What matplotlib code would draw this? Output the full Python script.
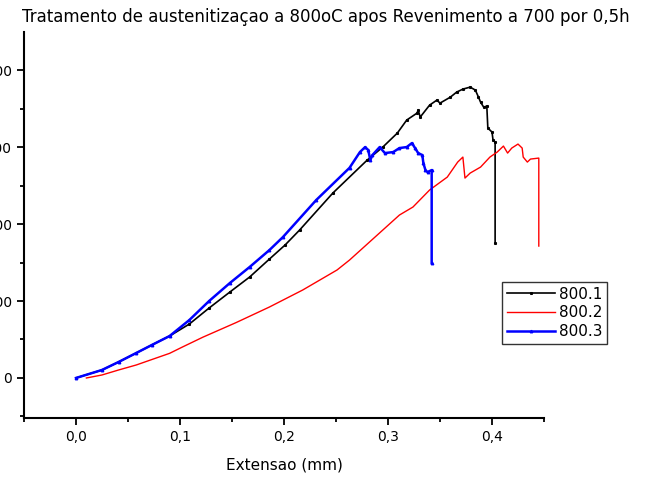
import matplotlib.pyplot as plt
from matplotlib.ticker import MultipleLocator, FuncFormatter

# Ensaio de tracao - extensao (mm) x carga
x_800_1 = [0.0, 0.025, 0.041, 0.058, 0.073, 0.090, 0.109, 0.128, 0.148, 0.167, 0.186,
           0.201, 0.215, 0.247, 0.280, 0.295, 0.309, 0.318, 0.328, 0.329, 0.331, 0.340,
           0.347, 0.350, 0.360, 0.366, 0.372, 0.379, 0.384, 0.387, 0.389, 0.392, 0.395,
           0.396, 0.400, 0.401, 0.403, 0.403]
y_800_1 = [0, 104, 208, 325, 429, 545, 701, 909, 1117, 1312, 1545,
           1727, 1922, 2403, 2831, 3000, 3182, 3351, 3442, 3481, 3390, 3545,
           3610, 3571, 3649, 3714, 3753, 3779, 3740, 3649, 3584, 3519, 3532,
           3247, 3195, 3091, 3065, 1753]

x_800_2 = [0.010, 0.025, 0.041, 0.058, 0.073, 0.090, 0.102, 0.122, 0.154, 0.186, 0.218,
           0.251, 0.263, 0.295, 0.311, 0.324, 0.340, 0.357, 0.367, 0.372, 0.374, 0.379,
           0.389, 0.398, 0.405, 0.411, 0.415, 0.419, 0.425, 0.429, 0.430, 0.434, 0.437,
           0.445, 0.445]
y_800_2 = [0, 39, 104, 169, 240, 320, 400, 530, 720, 922, 1143,
           1403, 1532, 1922, 2117, 2221, 2442, 2610, 2805, 2870, 2597, 2662,
           2740, 2870, 2935, 3013, 2922, 2987, 3039, 2987, 2870, 2805, 2844,
           2857, 1714]

x_800_3 = [0.0, 0.025, 0.041, 0.058, 0.073, 0.090, 0.109, 0.128, 0.148, 0.167, 0.186,
           0.199, 0.231, 0.263, 0.273, 0.278, 0.281, 0.283, 0.285, 0.292, 0.297, 0.305,
           0.311, 0.318, 0.323, 0.326, 0.329, 0.333, 0.334, 0.336, 0.338, 0.342, 0.342]
y_800_3 = [0, 104, 208, 325, 429, 545, 753, 1000, 1234, 1442, 1662,
           1831, 2312, 2730, 2935, 3000, 2961, 2831, 2896, 3000, 2922, 2935,
           2987, 3000, 3052, 2987, 2922, 2896, 2792, 2701, 2675, 2701, 1494]

fig = plt.figure(figsize=(6.58, 4.79), dpi=100)
ax = fig.add_axes([24/658, 1-418/479, 520/658, 386/479])

ax.plot(x_800_1, y_800_1, color='black', lw=1.2, marker='s', ms=1.2, label='800.1')
ax.plot(x_800_2, y_800_2, color='red', lw=1.0, label='800.2')
ax.plot(x_800_3, y_800_3, color='blue', lw=1.8, marker='^', ms=1.8, label='800.3')

ax.set_xlim(-0.05, 0.45)
ax.set_ylim(-520, 4495)
ax.spines['top'].set_visible(False)
ax.spines['right'].set_visible(False)
ax.spines['left'].set_linewidth(1.5)
ax.spines['bottom'].set_linewidth(1.5)

ax.xaxis.set_major_locator(MultipleLocator(0.1))
ax.xaxis.set_minor_locator(MultipleLocator(0.05))
ax.yaxis.set_major_locator(MultipleLocator(1000))
ax.yaxis.set_minor_locator(MultipleLocator(500))
ax.xaxis.set_major_formatter(FuncFormatter(lambda v, p: ('%.1f' % v).replace('.', ',')))
ax.tick_params(which='major', direction='out', length=5, width=1.3, labelsize=10)
ax.tick_params(which='minor', direction='out', length=3, width=1.3)

ax.set_xlabel('Extensao (mm)', fontsize=11, labelpad=10)
fig.suptitle('Tratamento de austenitizaçao a 800oC apos Revenimento a 700 por 0,5h',
             x=0.495, y=1-17/479, va='center', fontsize=12)

fig.legend(loc='upper left', bbox_to_anchor=(502/658, 1-282/479), fontsize=11,
           frameon=True, fancybox=False, edgecolor='black', borderaxespad=0,
           handlelength=3.2, handletextpad=0.2, labelspacing=0.25, borderpad=0.3)

fig.savefig('out.png', dpi=100)
